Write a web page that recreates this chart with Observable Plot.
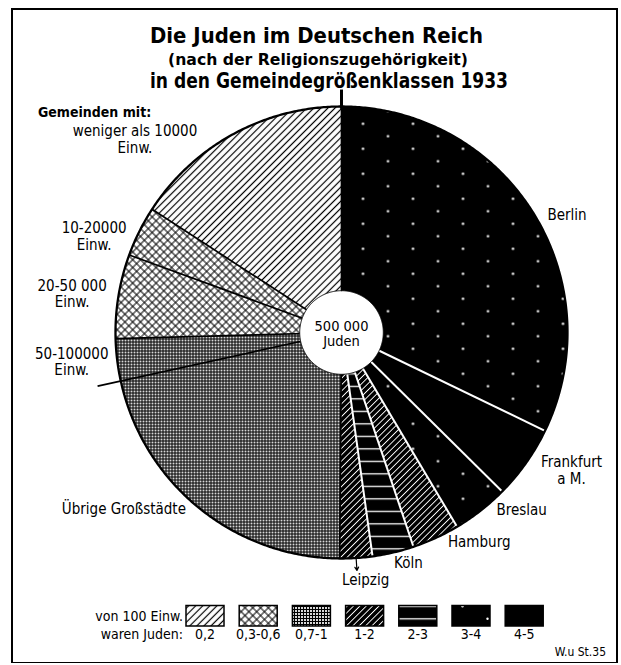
<!DOCTYPE html>
<html>
<head>
<meta charset="utf-8">
<script src="https://cdn.jsdelivr.net/npm/d3@7"></script>
<script src="https://cdn.jsdelivr.net/npm/@observablehq/plot@0.6"></script>
<style>
html,body{margin:0;padding:0;background:#fff;}
#page{position:relative;width:621px;height:665px;overflow:hidden;background:#fff;
  font-family:"DejaVu Sans Condensed","DejaVu Sans",sans-serif;font-stretch:condensed;}
#title{position:absolute;left:0;top:0;}
#chart{position:absolute;left:0;top:92px;}
#legend{position:absolute;left:0;top:600px;}
#frame{position:absolute;left:11px;top:8px;width:603px;height:652px;border-style:solid;border-color:#000;border-width:2px 2px 1.5px 2px;pointer-events:none;}
svg text{font-stretch:condensed;}
</style>
</head>
<body>
<div id="page">
  <div id="title"></div>
  <div id="chart"></div>
  <div id="legend"></div>
  <div id="frame"></div>
</div>
<script>
// ---------------- data ----------------
const titleLines = ["Die Juden im Deutschen Reich", "(nach der Religionszugehörigkeit)", "in den Gemeindegrößenklassen 1933"];
const places = ["Berlin", "Frankfurt a M.", "Breslau", "Hamburg", "Köln", "Leipzig",
  "Übrige Großstädte", "50-100000 Einw.", "20-50 000 Einw.", "10-20000 Einw.", "weniger als 10000 Einw."];
const placeLabels = [["Berlin"], ["Frankfurt", "a M."], ["Breslau"], ["Hamburg"], ["Köln"], ["Leipzig"],
  ["Übrige Großstädte"], ["50-100000", "Einw."], ["20-50 000", "Einw."], ["10-20000", "Einw."], ["weniger als 10000", "Einw."]];
const jewsThousands = [160.6, 26.2, 20.2, 16.9, 14.8, 11.6, 107, 15, 30, 18, 79];
const densityClass = ["3-4", "4-5", "3-4", "1-2", "2-3", "1-2", "0,7-1", "0,7-1", "0,3-0,6", "0,3-0,6", "0,2"];
const classes = ["0,2", "0,3-0,6", "0,7-1", "1-2", "2-3", "3-4", "4-5"];
const groupHeader = "Gemeinden mit:";
const totalLabel = "500 000\nJuden";
const legendHeader = ["von 100 Einw.", "waren Juden:"];
const sourceNote = "W.u St.35";

// ---------------- layout (pixels) ----------------
const W = 621, chartTop = 92, chartH = 508;
const cx = 341, cy = 332, R = 226;
const holeR = 0.185;
// label nudges from the point at 1.1 R on the slice's mid angle
const labelNudge = [[15, 14], [27, -6], [27, -19], [34, -17], [10, -12], [8, -1],
  [-61, -17], [-23, -1], [-24, 1], [-25, 15], [-88, 25]];
const headerNudge = [-97, -26];
const leaderOut = {"Übrige Großstädte": 1.105};

// ---------------- build ----------------
const slices = places.map((name, i) => ({name, value: jewsThousands[i], cls: densityClass[i], lines: placeLabels[i], i}));
const arcs = d3.pie().sort(null).value(d => d.value)(slices);
const isDark = a => classes.indexOf(a.data.cls) >= 3;
const polar = (ang, r) => ({x: r * Math.sin(ang), y: r * Math.cos(ang)});

function wedge(a) {
  const pts = [{x: 0, y: 0}];
  const n = Math.max(2, Math.ceil((a.endAngle - a.startAngle) / (Math.PI / 360)));
  for (let k = 0; k <= n; k++) pts.push(polar(a.startAngle + (a.endAngle - a.startAngle) * k / n, 1));
  pts.push({x: 0, y: 0});
  return pts;
}
function circle(r) {
  return d3.range(0, 721).map(k => polar(k * Math.PI / 360, r));
}

const boundaries = arcs.map((a, i) => ({
  angle: a.endAngle,
  dark: isDark(a) && isDark(arcs[(i + 1) % arcs.length]),
  r: leaderOut[a.data.name] || 1
}));

const labelData = arcs.map((a, i) => {
  const mid = (a.startAngle + a.endAngle) / 2;
  const p = polar(mid, 1.1);
  return {x: p.x + labelNudge[i][0] / R, y: p.y - labelNudge[i][1] / R, text: a.data.lines.join("\n")};
});
const last = labelData[labelData.length - 1];
const headerData = [{x: last.x + headerNudge[0] / R, y: last.y - headerNudge[1] / R, text: groupHeader}];

const leipzig = arcs.find(a => a.data.name === "Leipzig");
const lMid = (leipzig.startAngle + leipzig.endAngle) / 2;
const arrowData = [{a: polar(lMid, 1.006), b: polar(lMid, 1.055)}];

const fontFamily = '"DejaVu Sans Condensed","DejaVu Sans",sans-serif';

const plot = Plot.plot({
  width: W, height: chartH,
  margin: 0,
  x: {domain: [-cx / R, (W - cx) / R], axis: null},
  y: {domain: [-(chartTop + chartH - cy) / R, (cy - chartTop) / R], axis: null},
  style: `font-family:${fontFamily};font-stretch:condensed;font-size:16px;background:none;overflow:visible;color:#000;`,
  marks: [
    ...arcs.map(a => Plot.line(wedge(a), {x: "x", y: "y", fill: `url(#pat${classes.indexOf(a.data.cls)})`, stroke: "none"})),
    Plot.link(boundaries.filter(b => !b.dark), {x1: () => 0, y1: () => 0,
      x2: b => b.r * Math.sin(b.angle), y2: b => b.r * Math.cos(b.angle), stroke: "black", strokeWidth: 1.7}),
    Plot.link(boundaries.filter(b => b.dark), {x1: () => 0, y1: () => 0,
      x2: b => Math.sin(b.angle), y2: b => Math.cos(b.angle), stroke: "white", strokeWidth: 2}),
    Plot.line(circle(1), {x: "x", y: "y", stroke: "black", strokeWidth: 2.3, fill: "none"}),
    Plot.line(circle(holeR), {x: "x", y: "y", fill: "white", stroke: "black", strokeWidth: 1}),
    Plot.link([0], {x1: () => 0, y1: () => 0.99, x2: () => 0, y2: () => 1.075, stroke: "black", strokeWidth: 3}),
    Plot.arrow(arrowData, {x1: d => d.a.x, y1: d => d.a.y, x2: d => d.b.x, y2: d => d.b.y,
      stroke: "black", strokeWidth: 1.2, headLength: 5}),
    Plot.text([totalLabel], {x: () => 0, y: () => -0.004, text: d => d, fontSize: 14.5, lineHeight: 1.1}),
    Plot.text(labelData, {x: "x", y: "y", text: "text", fontSize: 15, lineHeight: 1.12}),
    Plot.text(headerData, {x: "x", y: "y", text: "text", fontSize: 14, fontWeight: "bold", textAnchor: "start"})
  ]
});
document.getElementById("chart").appendChild(plot);

// patterns
const defs = d3.select(plot).insert("defs", ":first-child");
function pat(i, w, h, rot) {
  const p = defs.append("pattern").attr("id", "pat" + i).attr("patternUnits", "userSpaceOnUse")
    .attr("width", w).attr("height", h);
  if (rot) p.attr("patternTransform", `rotate(${rot})`);
  return p;
}
let p;
p = pat(0, 5, 5, 45);
p.append("rect").attr("width", 5).attr("height", 5).attr("fill", "#fff");
p.append("line").attr("x1", 2.5).attr("y1", 0).attr("x2", 2.5).attr("y2", 5).attr("stroke", "#000").attr("stroke-width", 1.2);
p = pat(1, 5.5, 5.5, 45);
p.append("rect").attr("width", 5.5).attr("height", 5.5).attr("fill", "#fff");
p.append("line").attr("x1", 2.75).attr("y1", 0).attr("x2", 2.75).attr("y2", 5.5).attr("stroke", "#000").attr("stroke-width", 1);
p.append("line").attr("x1", 0).attr("y1", 2.75).attr("x2", 5.5).attr("y2", 2.75).attr("stroke", "#000").attr("stroke-width", 1);
p = pat(2, 3, 3, 0);
p.append("rect").attr("width", 3).attr("height", 3).attr("fill", "#d8d8d8");
p.append("rect").attr("width", 3).attr("height", 1).attr("fill", "#000");
p.append("rect").attr("width", 1).attr("height", 3).attr("fill", "#000");
p = pat(3, 4.5, 4.5, 45);
p.append("rect").attr("width", 4.5).attr("height", 4.5).attr("fill", "#000");
p.append("line").attr("x1", 2.25).attr("y1", 0).attr("x2", 2.25).attr("y2", 4.5).attr("stroke", "#fff").attr("stroke-width", 0.9);
p = pat(4, 10, 12.5, 0);
p.append("rect").attr("width", 10).attr("height", 12.5).attr("fill", "#000");
p.append("rect").attr("y", 5.7).attr("width", 10).attr("height", 1.3).attr("fill", "#fff");
p = pat(5, 50, 25, 0);
p.append("rect").attr("width", 50).attr("height", 25).attr("fill", "#000");
p.append("circle").attr("cx", 12.5).attr("cy", 6.25).attr("r", 1.2).attr("fill", "#fff");
p.append("circle").attr("cx", 37.5).attr("cy", 18.75).attr("r", 1.2).attr("fill", "#fff");
p = pat(6, 4, 4, 0);
p.append("rect").attr("width", 4).attr("height", 4).attr("fill", "#000");

// title
const titleSpec = [{size: 22, x: 150, w: 333, base: 43}, {size: 16.5, x: 168, w: 300, base: 65}, {size: 22, x: 150, w: 358, base: 88}];
const ts = d3.select("#title").append("svg").attr("width", W).attr("height", chartTop)
  .style("font-family", fontFamily);
ts.selectAll("text").data(titleLines).join("text")
  .attr("x", (d, i) => titleSpec[i].x).attr("y", (d, i) => titleSpec[i].base)
  .attr("font-size", (d, i) => titleSpec[i].size).attr("font-weight", "bold")
  .attr("textLength", (d, i) => titleSpec[i].w).attr("lengthAdjust", "spacingAndGlyphs")
  .text(d => d);

// legend
const lg = d3.select("#legend").append("svg").attr("width", W).attr("height", 65)
  .style("font-family", fontFamily).attr("font-size", 14);
const bx = i => 186 + i * 53.2;
lg.selectAll("rect.sw").data(classes).join("rect").attr("class", "sw")
  .attr("x", (d, i) => bx(i)).attr("y", 5.5).attr("width", 38).attr("height", 20.5)
  .attr("fill", (d, i) => `url(#pat${i})`).attr("stroke", "#000").attr("stroke-width", 1.5);
lg.selectAll("text.cl").data(classes).join("text").attr("class", "cl")
  .attr("x", (d, i) => bx(i) + 19).attr("y", 39).attr("text-anchor", "middle").text(d => d);
lg.selectAll("text.hd").data(legendHeader).join("text").attr("class", "hd")
  .attr("x", 183).attr("y", (d, i) => 21 + i * 18).attr("text-anchor", "end").text(d => d);
lg.append("text").attr("x", 606).attr("y", 56).attr("text-anchor", "end").attr("font-size", 12).text(sourceNote);
</script>
</body>
</html>
